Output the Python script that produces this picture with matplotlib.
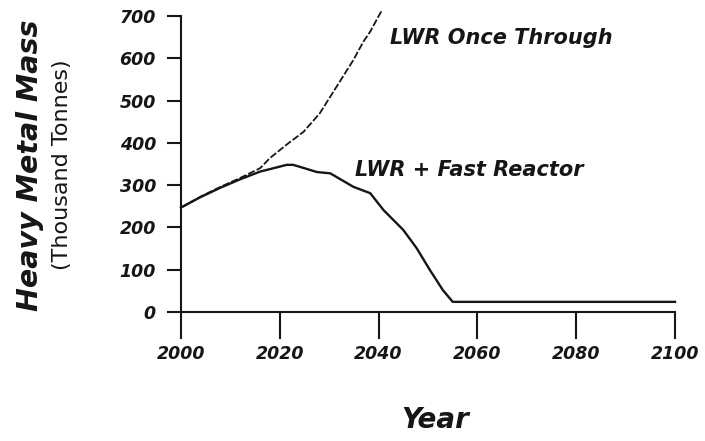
import matplotlib
matplotlib.use("Agg")
import matplotlib.pyplot as plt

# Inventory of heavy metal in spent fuel (thousand tonnes)
once_years = [2000, 2004, 2008, 2012, 2016, 2018, 2021.4, 2024.8, 2028.1,
              2031.5, 2034.9, 2036.9, 2038.3, 2040.3, 2040.6]
once_mass = [247, 273, 296, 317, 340, 364, 396, 426, 470,
             533, 596, 639, 663, 706, 712]

fr_years = [2000, 2004, 2008, 2012, 2016, 2021.4, 2022.7, 2025, 2027.5, 2030.2,
            2034.9, 2038.3, 2041, 2045, 2047.7, 2050.4, 2053, 2055, 2060, 2080,
            2100]
fr_mass = [247, 272, 294, 314, 332, 348, 348, 340, 331, 328,
           296, 281, 241, 194, 151, 99, 52, 24, 24, 24, 24]

x_ticks = [2000, 2020, 2040, 2060, 2080, 2100]
y_ticks = [0, 100, 200, 300, 400, 500, 600, 700]

ink = "#161616"
bold_it = dict(family="DejaVu Sans", weight="bold", style="oblique", color=ink)

fig = plt.figure(figsize=(7.05, 4.41), dpi=100)
ax = fig.add_axes([181 / 705, 1 - 312 / 441, 494 / 705, 296 / 441])

ax.plot(once_years, once_mass, color=ink, lw=1.3, ls=(0, (4, 1.2)),
        clip_on=False)
ax.plot(fr_years, fr_mass, color=ink, lw=1.7, clip_on=False)

ax.set_xlim(2000, 2100)
ax.set_ylim(0, 700)
ax.set_xticks(x_ticks)
ax.set_yticks(y_ticks)
ax.set_xticklabels([str(v) for v in x_ticks], **bold_it, fontsize=12.5)
ax.set_yticklabels([str(v) for v in y_ticks], **bold_it, fontsize=12.5)

for side in ("top", "right"):
    ax.spines[side].set_visible(False)
for side in ("left", "bottom"):
    ax.spines[side].set_linewidth(1.5)
    ax.spines[side].set_color(ink)

ax.tick_params(axis="x", direction="out", length=19.5, width=1.5,
               color=ink, pad=4)
ax.tick_params(axis="y", direction="out", length=10, width=1.5,
               color=ink, pad=8)

ax.text(2042.3, 648, "LWR Once Through", fontsize=15, va="center",
        ha="left", **bold_it)
ax.text(2035.2, 336, "LWR + Fast Reactor", fontsize=15, va="center",
        ha="left", **bold_it)

fig.text(30 / 705, 1 - 165 / 441, "Heavy Metal Mass", rotation=90,
         fontsize=20.5, ha="center", va="center", **bold_it)
fig.text(62 / 705, 1 - 165 / 441, "(Thousand Tonnes)", rotation=90,
         fontsize=16, ha="center", va="center", family="DejaVu Sans",
         color=ink)
fig.text(435 / 705, 1 - 420 / 441, "Year", fontsize=20, ha="center",
         va="center", **bold_it)

fig.savefig("out.png", dpi=100, facecolor="white")
